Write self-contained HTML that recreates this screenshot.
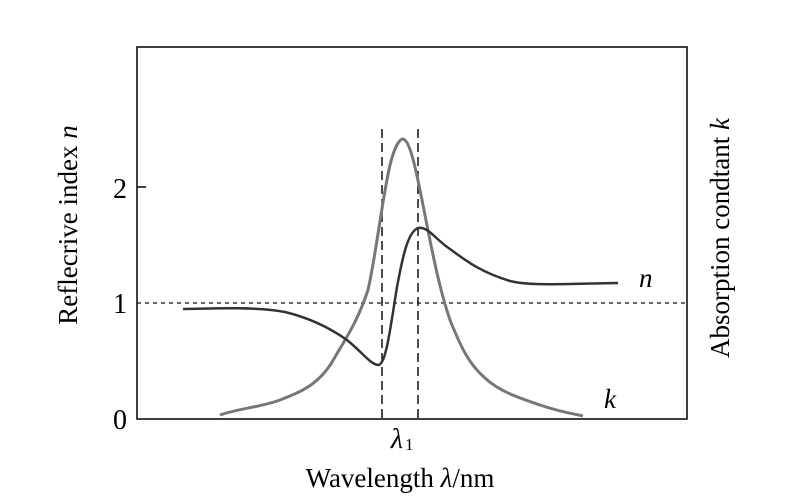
<!DOCTYPE html>
<html><head><meta charset="utf-8"><style>
body{margin:0;background:#fff;}
svg{display:block;font-family:"Liberation Serif",serif;}
</style></head><body>
<svg width="800" height="501" viewBox="0 0 800 501">
<rect x="137" y="47" width="550" height="372" fill="none" stroke="#111" stroke-width="1.6"/>
<line x1="137" y1="187" x2="146" y2="187" stroke="#111" stroke-width="1.6"/>
<line x1="137" y1="303" x2="687" y2="303" stroke="#111" stroke-width="1.3" stroke-dasharray="4,4"/>
<line x1="382" y1="129" x2="382" y2="419" stroke="#111" stroke-width="1.5" stroke-dasharray="9,5"/>
<line x1="418" y1="129" x2="418" y2="419" stroke="#111" stroke-width="1.5" stroke-dasharray="9,5"/>
<path d="M220,415 C240,408 262,407 280,400 C300,392 320,385 335,357 C348,335 358,320 368,290 C376,255 382,200 390,165 C395,145 400,139 403,139 C410,140 416,170 422,200 C430,240 438,285 450,320 C462,350 470,365 485,378 C500,392 520,398 540,405 C560,412 575,414 583,416" fill="none" stroke="#777" stroke-width="3"/>
<path d="M183,309 C220,308 260,307 285,312 C310,318 330,328 347,340 C362,352 370,364 378,365 C386,365 390,330 397,287 C403,255 408,232 418,228 C428,226 436,240 450,249 C465,260 480,272 510,281 C530,286 560,284 618,283" fill="none" stroke="#333" stroke-width="2.5"/>
<text x="120" y="429" font-size="28" text-anchor="middle">0</text>
<text x="120" y="313" font-size="28" text-anchor="middle">1</text>
<text x="120" y="198" font-size="28" text-anchor="middle">2</text>
<text x="639" y="287" font-size="27" font-style="italic">n</text>
<text x="604" y="408" font-size="27" font-style="italic">k</text>
<text x="397" y="448" font-size="28" font-style="italic" text-anchor="middle">λ</text>
<text x="405" y="450" font-size="17">1</text>
<text x="400" y="487" font-size="27" text-anchor="middle">Wavelength <tspan font-style="italic">λ</tspan>/nm</text>
<text transform="translate(77,225) rotate(-90)" font-size="27" text-anchor="middle">Reflecrive index <tspan font-style="italic">n</tspan></text>
<text transform="translate(729,238) rotate(-90)" font-size="27" text-anchor="middle">Absorption condtant <tspan font-style="italic">k</tspan></text>
</svg>
</body></html>
